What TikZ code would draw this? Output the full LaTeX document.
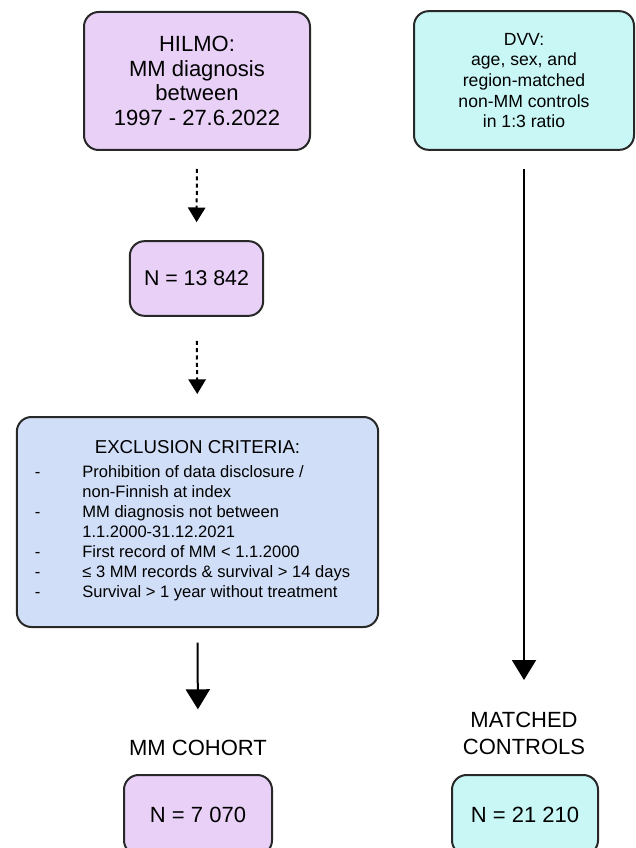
\documentclass[tikz,border=0pt]{standalone}
\usepackage{fontspec}
\setmainfont{Liberation Sans}
\usetikzlibrary{positioning, arrows.meta}
\definecolor{mmFill}    {RGB}{233,208,247}
\definecolor{dvvFill}   {RGB}{200,247,245}
\definecolor{exclFill}  {RGB}{208,222,247}
\definecolor{boxBd}     {RGB}{ 40, 40, 40}
\tikzset{
  %% rounded source / count box
  srcbox/.style={
    rectangle, rounded corners=11pt,
    align=center, draw=boxBd, line width=1.5pt,
    inner sep=0pt, text=black
  },
  mmbox/.style={srcbox, fill=mmFill},
  dvvbox/.style={srcbox, fill=dvvFill},
  %% exclusion criteria box
  exclbox/.style={
    srcbox, fill=exclFill,
    minimum width=271pt, minimum height=157.5pt
  },
  %% plain group label
  grplbl/.style={
    align=center, inner sep=0pt,
    font=\fontsize{16.5}{20.5}\selectfont
  },
  %% dotted arrow (small head)
  arrD/.style={
    -{Triangle[length=11pt,width=13pt]},
    line width=1.5pt, dash pattern=on 3pt off 2.5pt
  },
  %% solid arrow (large head)
  arrS/.style={
    -{Triangle[length=15pt,width=18pt]},
    line width=1.5pt
  }
}
\begin{document}
\begin{tikzpicture}[x=0.75pt, y=-0.75pt]

\useasboundingbox (0,0) rectangle (635,848);

%% ═══════════════════════════════════════════════════════════
%%  LEFT COLUMN  (MM patients)
%% ═══════════════════════════════════════════════════════════

\node[mmbox, minimum width=169.5pt, minimum height=103.5pt,
  font=\fontsize{16.5}{18.5}\selectfont
] (hilmo) at (197,81) {
  HILMO:\\
  MM diagnosis\\
  between\\
  1997 - 27.6.2022
};

\node[mmbox, minimum width=100pt, minimum height=56pt,
  font=\fontsize{16}{19}\selectfont
] (nall) at (196.5,278.5) {N = 13 842};

\node[exclbox] (excl) at (197.5,522) {
  \fontsize{14}{17}\selectfont EXCLUSION CRITERIA:\\[6pt]
  \fontsize{12.4}{15}\selectfont
  \begin{tabular}{@{}l@{\hspace{31.5pt}}l@{}}
    - & Prohibition of data disclosure /\\
      & non-Finnish at index\\
    - & MM diagnosis not between\\
      & 1.1.2000-31.12.2021\\
    - & First record of MM < 1.1.2000\\
    - & ≤ 3 MM records \& survival > 14 days\\
    - & Survival > 1 year without treatment
  \end{tabular}\hspace{7.5pt}
};

\node[grplbl] (cohort) at (198,748) {MM COHORT};

\node[mmbox, minimum width=111pt, minimum height=60pt,
  font=\fontsize{16.5}{19}\selectfont
] (ncohort) at (198,815) {N = 7 070};

%% ═══════════════════════════════════════════════════════════
%%  RIGHT COLUMN  (matched controls)
%% ═══════════════════════════════════════════════════════════

\node[dvvbox, minimum width=165pt, minimum height=104pt,
  font=\fontsize{13.2}{15.5}\selectfont
] (dvv) at (524,80.5) {
  DVV:\\
  age, sex, and\\
  region-matched\\
  non-MM controls\\
  in 1:3 ratio
};

\node[grplbl, anchor=north] (matched) at (524,712) {
  MATCHED\\
  CONTROLS
};

\node[dvvbox, minimum width=109.5pt, minimum height=60pt,
  font=\fontsize{16.5}{19}\selectfont
] (ncontrol) at (525,815) {N = 21 210};

%% ═══════════════════════════════════════════════════════════
%%  ARROWS
%% ═══════════════════════════════════════════════════════════

\draw[arrD, shorten <=13.5pt, shorten >=13.5pt] (hilmo.south) -- (nall.north);
\draw[arrD, shorten <=18pt, shorten >=16.5pt] (nall.south) -- (excl.north);
\draw[arrS, shorten <=11pt, shorten >=23pt] (excl.south) -- (cohort.north);

\draw[arrS, shorten <=13.5pt, shorten >=24pt] (dvv.south) -- (matched.north);

\end{tikzpicture}
\end{document}
